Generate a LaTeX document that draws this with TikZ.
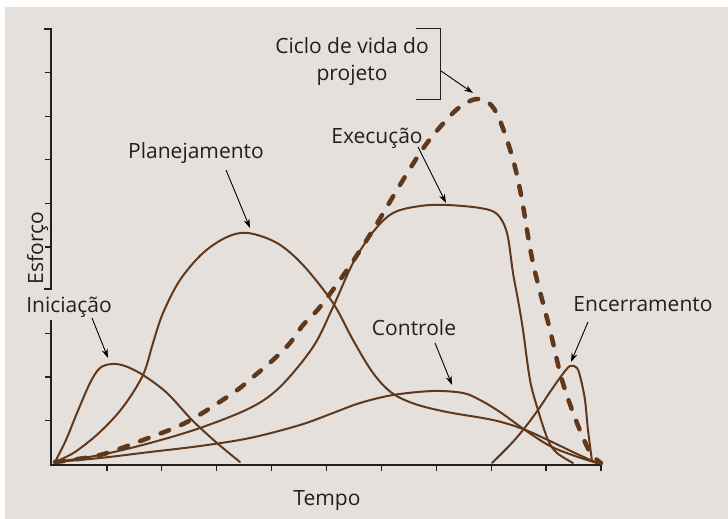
\documentclass[tikz,border=0pt]{standalone}
\usepackage{fontspec}
\setmainfont{Open Sans}
\usetikzlibrary{arrows.meta}
\definecolor{bg}{RGB}{229,224,220}
\definecolor{crv}{RGB}{96,56,28}
\definecolor{ink}{RGB}{35,31,32}
\begin{document}
\begin{tikzpicture}[x=1pt,y=-1pt,
 lbl/.style={font=\fontsize{21}{28}\selectfont, text=ink, inner sep=0pt, anchor=base, align=center},
 crvline/.style={draw=crv, line width=2pt, line cap=round},
 cyc/.style={draw=crv, line width=4.5pt, line cap=round, dash pattern=on 9pt off 13pt},
 axisline/.style={draw=ink, line width=1.3pt},
 arr/.style={draw=black, line width=0.9pt, -{Stealth[length=9pt,width=6pt]}}]
\useasboundingbox (0,0) rectangle (728,519);
\fill[bg] (5,7.5) rectangle (728,519);

% axes
\draw[axisline] (44,29) -- (51,29) -- (51,289) -- (44,289);
\foreach \y in {72.6,116.2,159.8,203.4,247} \draw[axisline] (45,\y) -- (51,\y);
\draw[axisline] (51,320) -- (51,465) -- (600,465);
\foreach \y in {333.4,377,420.6} \draw[axisline] (45,\y) -- (51,\y);
\foreach \x in {106.9,161.8,216.7,271.6,326.5,381.4,436.3,491.2,546.1,601} \draw[axisline] (\x,465) -- (\x,471);

% curves
\draw[crvline] plot[smooth, tension=0.55] coordinates {(55,462) (66,440) (77,413) (90,383) (100,368) (112,364) (125,366) (143,375) (167,393) (192,420) (217,443) (240,462)};
\draw[crvline] plot[smooth, tension=0.55] coordinates {(55,462) (75,452) (100,432) (123,407) (143,375) (153,343) (163,313) (180,280) (203,253) (227,237) (248,233) (277,243) (303,265) (333,303) (353,340) (373,373) (392,393) (415,404) (447,412) (493,420) (523,429) (550,441) (575,453) (597,463)};
\draw[crvline] plot[smooth, tension=0.55] coordinates {(55,462) (100,455) (150,443) (200,428) (250,408) (280,387) (313,347) (333,307) (353,263) (373,232) (393,213) (420,206) (447,205) (480,208) (497,214) (507,233) (513,273) (518,300) (523,330) (530,380) (538,410) (548,440) (557,453) (573,463)};
\draw[crvline] plot[smooth, tension=0.55] coordinates {(55,462) (100,458) (150,452) (200,446) (250,438) (300,425) (333,413) (360,403) (393,395) (433,391) (463,393) (480,400) (500,412) (525,430) (550,446) (575,456) (597,463)};
\draw[crvline] plot[smooth, tension=0.55] coordinates {(492,463) (510,445) (523,430) (538,410) (550,392) (562,375) (570,366) (577,368) (581,380) (585,400) (588,430) (592,461)};
\draw[cyc] plot[smooth, tension=0.55] coordinates {(55,462) (100,455) (143,440) (187,422) (233,393) (253,377) (273,360) (290,343) (303,325) (320,307) (347,270) (373,230) (403,180) (427,143) (453,113) (468,102) (479,99) (490,104) (498,116) (507,140) (515,167) (522,200) (533,263) (550,330) (562,380) (577,423) (590,452) (601,463)};

% labels
\node[lbl] (ciclo) at (352,81) {Ciclo de vida do\\projeto};
\draw[axisline, line width=1pt] (416,29) -- (440,29) -- (440,99) -- (416,99);
\node[lbl] (exec) at (377,143) {Execução};
\node[lbl] (plan) at (196,158) {Planejamento};
\node[lbl] (inic) at (69,312) {Iniciação};
\node[lbl] (ctrl) at (414,335) {Controle};
\node[lbl] (ence) at (643,311) {Encerramento};
\node[lbl] (tempo) at (327,505) {Tempo};
\node[lbl, rotate=90] (esf) at (43,248) {Esforço};

% arrows
\coordinate (cicloA) at (441,71); \coordinate (cicloB) at (473,93);
\coordinate (execA) at (418,147); \coordinate (execB) at (446,203);
\coordinate (planA) at (226,170); \coordinate (planB) at (250,228);
\coordinate (inicA) at (92,318); \coordinate (inicB) at (108,358);
\coordinate (ctrlA) at (435,343); \coordinate (ctrlB) at (452,385);
\coordinate (enceA) at (588,322); \coordinate (enceB) at (571,362);
\draw[arr] (cicloA) -- (cicloB);
\draw[arr] (execA) -- (execB);
\draw[arr] (planA) -- (planB);
\draw[arr] (inicA) -- (inicB);
\draw[arr] (ctrlA) -- (ctrlB);
\draw[arr] (enceA) -- (enceB);
\end{tikzpicture}
\end{document}
